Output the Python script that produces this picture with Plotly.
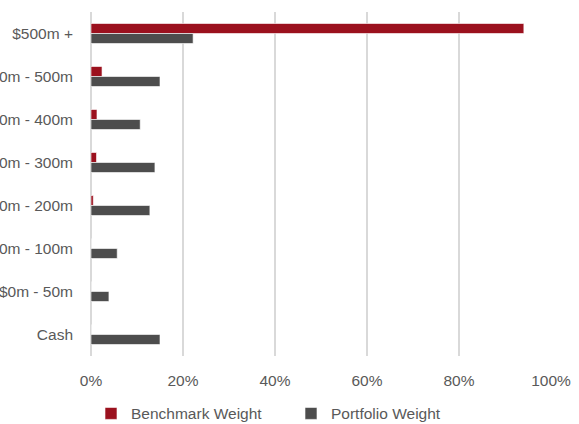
import plotly.graph_objects as go

categories = ["$500m +", "$400m - 500m", "$300m - 400m", "$200m - 300m",
              "$100m - 200m", "$50m - 100m", "$0m - 50m", "Cash"]
benchmark = [0.941, 0.024, 0.013, 0.012, 0.005, 0.0, 0.0, 0.0]
portfolio = [0.222, 0.150, 0.107, 0.139, 0.128, 0.057, 0.039, 0.150]
tick_vals = [0, 0.2, 0.4, 0.6, 0.8, 1.0]

FONT = "Liberation Sans, Arial, sans-serif"
TXT = "#595959"

fig = go.Figure()
fig.add_trace(go.Bar(name="Benchmark Weight", y=categories, x=benchmark, orientation="h",
                     marker=dict(color="#9B111E", line=dict(color="rgba(255,255,255,0.6)", width=1))))
fig.add_trace(go.Bar(name="Portfolio Weight", y=categories, x=portfolio, orientation="h",
                     marker=dict(color="#4D4D4D", line=dict(color="rgba(255,255,255,0.6)", width=1))))

fig.update_layout(
    width=579, height=424,
    margin=dict(l=91, r=28, t=12, b=68),
    plot_bgcolor="white", paper_bgcolor="white",
    font=dict(family=FONT, size=15.5, color=TXT),
    barmode="group", bargap=0.535, bargroupgap=0,
    showlegend=True,
    legend=dict(orientation="h", x=0.0, xref="paper", xanchor="left",
                y=0.024, yref="container", yanchor="middle",
                font=dict(size=15.5, color=TXT), entrywidth=155, entrywidthmode="pixels",
                traceorder="normal", itemclick=False),
    xaxis=dict(range=[0, 1], tickvals=tick_vals, tickformat=".0%",
               showgrid=True, gridcolor="#D9D9D9", gridwidth=2,
               zeroline=True, zerolinecolor="#D9D9D9", zerolinewidth=2,
               showline=False, ticks="", ticklabelstandoff=13, automargin=False),
    yaxis=dict(categoryorder="array", categoryarray=categories, autorange="reversed",
               showgrid=False, zeroline=False, showline=False, ticks="",
               ticklabelstandoff=17, automargin=False),
)

fig.write_html("out.html")
